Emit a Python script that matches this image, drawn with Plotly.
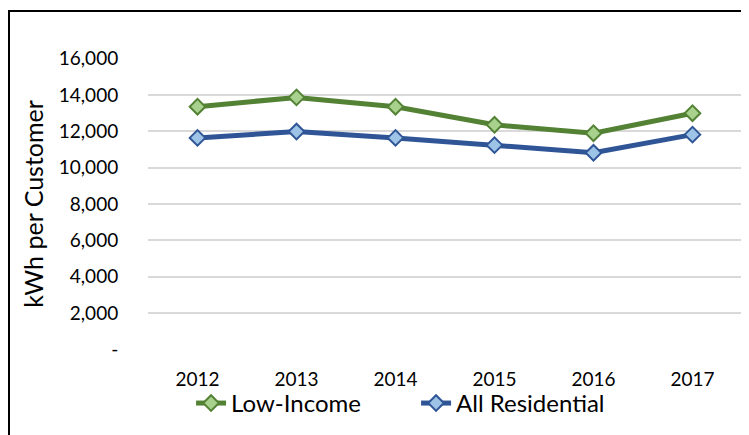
import plotly.graph_objects as go

years = ["2012", "2013", "2014", "2015", "2016", "2017"]
low_income = [13360, 13870, 13360, 12360, 11900, 13000]
all_residential = [11640, 11990, 11640, 11240, 10820, 11820]
y_tick_vals = [0, 2000, 4000, 6000, 8000, 10000, 12000, 14000, 16000]
y_tick_text = ["-", "2,000", "4,000", "6,000", "8,000", "10,000", "12,000", "14,000", "16,000"]

FONT = "Lato"
W, H = 749, 435
L, R, T, B = 140, 15, 50, 93

fig = go.Figure()
fig.add_trace(go.Scatter(
    x=years, y=low_income, name="Low-Income", mode="lines+markers",
    line=dict(color="#548235", width=5),
    marker=dict(symbol="diamond", size=12, color="#A9D18E",
                line=dict(color="#548235", width=2)),
))
fig.add_trace(go.Scatter(
    x=years, y=all_residential, name="All Residential", mode="lines+markers",
    line=dict(color="#2F5597", width=5),
    marker=dict(symbol="diamond", size=12, color="#9DC3E6",
                line=dict(color="#2F5597", width=2)),
))

pw = W - L - R
ph = H - T - B
fig.add_shape(type="rect", xref="paper", yref="paper",
              x0=(1 - L) / pw, x1=1.2, y0=-0.6, y1=(H - B - 3) / ph,
              line=dict(color="black", width=2), fillcolor="rgba(0,0,0,0)",
              layer="above")

fig.update_layout(
    width=W, height=H,
    margin=dict(l=L, r=R, t=T, b=B, autoexpand=False),
    paper_bgcolor="white", plot_bgcolor="white",
    font=dict(family=FONT, color="black"),
    showlegend=True,
    legend=dict(orientation="h", x=0.0725, y=-0.106, xanchor="left", yanchor="top",
                font=dict(size=24, family=FONT, color="black"),
                bgcolor="rgba(0,0,0,0)", itemwidth=30, tracegroupgap=0,
                entrywidth=180, entrywidthmode="pixels"),
    xaxis=dict(type="category", range=[-0.5, 5.5], showgrid=False, zeroline=False,
               showline=False, ticks="outside", ticklen=12,
               tickcolor="rgba(0,0,0,0)", tickfont=dict(size=19, family=FONT)),
    yaxis=dict(range=[-40, 16040], tickvals=y_tick_vals, ticktext=y_tick_text,
               showgrid=True, gridcolor="#D9D9D9", gridwidth=2,
               zeroline=False, showline=False,
               ticks="outside", ticklen=25, tickcolor="rgba(0,0,0,0)",
               tickfont=dict(size=19, family=FONT),
               title=dict(text="kWh per Customer", font=dict(size=25, family=FONT),
                          standoff=8)),
)

fig.write_html("out.html")
